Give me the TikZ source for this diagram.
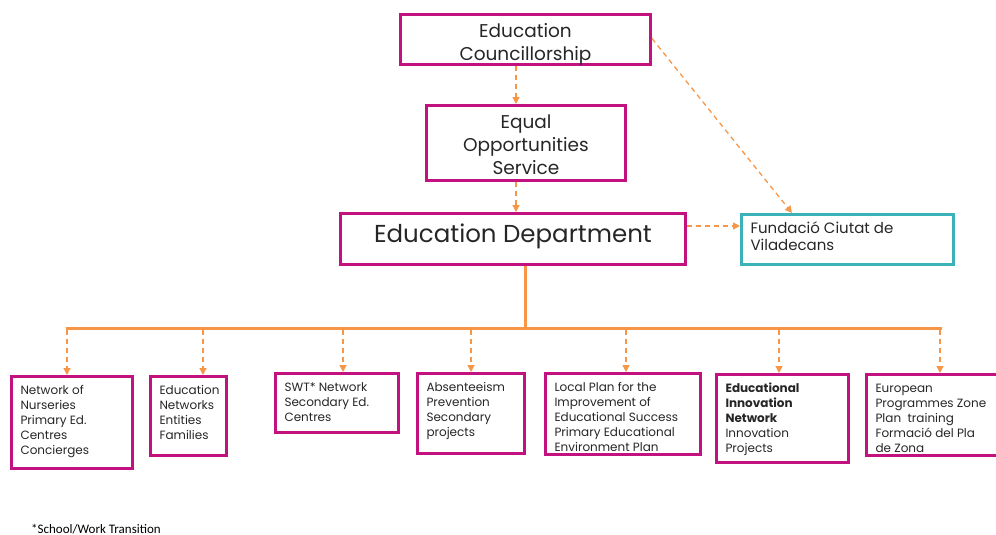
\documentclass[tikz,border=0pt]{standalone}
\usepackage{fontspec}
\setmainfont{Poppins}
\newfontfamily\notefont{Carlito}
\usetikzlibrary{arrows.meta}
\definecolor{mag}{HTML}{C3127F}
\definecolor{org}{HTML}{F79646}
\definecolor{teal2}{HTML}{3BB1B9}
\newcommand\boxtext[3]{\parbox[c][#2][t]{#1}{\raggedright\strut #3}}
\newcommand\ctrtext[3]{\parbox[c][#2][t]{#1}{\centering\strut #3}}
\tikzset{
  x=1pt, y=-1pt,
  topbox/.style={draw=mag, line width=3pt, inner xsep=0pt, inner ysep=7.3pt, text=black!85,
    font=\fontsize{18.5}{23}\selectfont},
  botbox/.style={draw=mag, line width=3pt, anchor=north west, inner xsep=9pt, inner ysep=7pt, text=black!85,
    font=\fontsize{12}{15}\selectfont},
  darr/.style={draw=org, line width=1.3pt, dash pattern=on 5pt off 4pt, -{Triangle[length=7pt,width=7pt]}},
  bus/.style={draw=org, line width=3pt}
}
\begin{document}
\begin{tikzpicture}
\useasboundingbox (0,0) rectangle (996,535);
% top boxes
\node[topbox] (cc) at (525.5,39.5) {\ctrtext{250pt}{35.4pt}{Education\\Councillorship}};
\node[topbox] (eo) at (526,143) {\ctrtext{199pt}{60.4pt}{Equal\\Opportunities\\Service}};
\node[topbox, inner ysep=9pt, font=\fontsize{24.5}{29}\selectfont] (ed) at (513,239) {\ctrtext{345pt}{33pt}{Education Department}};
\node[draw=teal2, line width=3pt, anchor=north west, inner xsep=9pt, inner ysep=7.5pt, text=black!85,
  font=\fontsize{15}{17}\selectfont] (fd) at (740,213) {\boxtext{194pt}{35pt}{Fundació Ciutat de\\Viladecans}};
% bottom boxes
\node[botbox] (n1) at (10,375) {\boxtext{103pt}{78pt}{Network of\\Nurseries\\Primary Ed.\\Centres\\Concierges}};
\node[botbox] (n2) at (149,375) {\boxtext{58pt}{65pt}{Education\\Networks\\Entities\\Families}};
\node[botbox] (n3) at (274,372) {\boxtext{105pt}{45pt}{SWT* Network\\Secondary Ed.\\Centres}};
\node[botbox] (n4) at (416,372) {\boxtext{89pt}{66pt}{Absenteeism\\Prevention\\Secondary\\projects}};
\node[botbox] (n5) at (544,372) {\boxtext{137pt}{67pt}{Local Plan for the\\Improvement of\\Educational Success\\Primary Educational\\Environment Plan}};
\node[botbox] (n6) at (715,373) {\boxtext{114pt}{74pt}{\textbf{Educational}\\\textbf{Innovation}\\\textbf{Network}\\Innovation\\Projects}};
\node[botbox] (n7) at (865,373) {\boxtext{130pt}{67pt}{European\\Programmes Zone\\Plan~ training\\Formació del Pla\\de Zona}};
% connectors
\draw[darr] ([xshift=-9.5pt]cc.south) -- ([xshift=-10pt]eo.north);
\draw[darr] ([xshift=-10pt]eo.south) -- ([xshift=3pt]ed.north);
\draw[darr] ([yshift=13pt]ed.east) -- ([yshift=13pt]ed.east -| fd.west);
\draw[darr] ([yshift=1pt]cc.east) -- ([xshift=-55.5pt]fd.north);
\coordinate (j) at (525,328);
\draw[bus] ([xshift=12pt]ed.south) -- (j);
\coordinate (b1) at (67,328);
\coordinate (b2) at (203,328);
\coordinate (b3) at (343,328);
\coordinate (b4) at (471,328);
\coordinate (b5) at (626,328);
\coordinate (b6) at (779,328);
\coordinate (b7) at (940,328);
\draw[bus] ([xshift=-1.5pt]b1) -- ([xshift=1.5pt]b7);
\foreach \i in {1,...,7}{
  \draw[darr] ([yshift=-1.5pt]b\i) -- (b\i |- n\i.north);
}
\node[font=\notefont\fontsize{13}{15}\selectfont, anchor=west, inner sep=0pt] (fn) at (31,529) {*School/Work Transition};
\end{tikzpicture}
\end{document}
